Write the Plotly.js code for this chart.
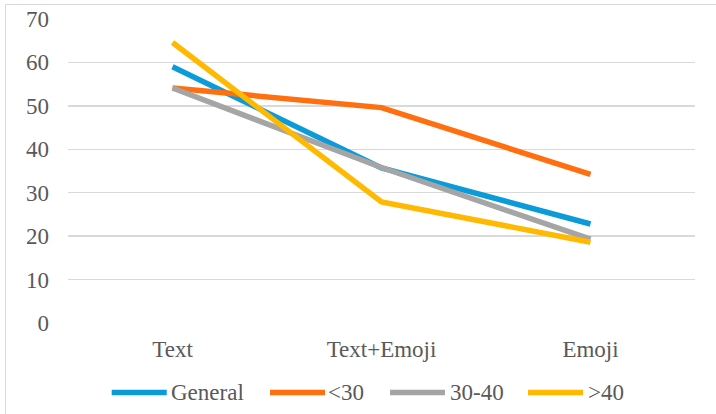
<!DOCTYPE html>
<html>
<head>
<meta charset="utf-8">
<script src="https://cdn.plot.ly/plotly-3.0.1.min.js"></script>
<style>
  html, body { margin: 0; padding: 0; background: #fff; }
  #chart { width: 716px; height: 414px; position: absolute; left: 0; top: 0; }
  #frame { position: absolute; left: 5px; top: 4px; width: 730px; height: 430px;
           border: 1.5px solid #D9D9D9; pointer-events: none; }
  #chart text { font-family: "Liberation Serif", "Times New Roman", serif !important; }
</style>
</head>
<body>
<div id="chart"></div>
<div id="frame"></div>
<script>
// ---- data ----
const categories = ["Text", "Text+Emoji", "Emoji"];
const seriesNames = ["General", "<30", "30-40", ">40"];
const general = [59.0, 35.7, 22.8];
const under30 = [54.1, 49.6, 34.2];
const age30to40 = [54.1, 35.8, 19.3];
const over40 = [64.6, 27.9, 18.6];
const yTickValues = [0, 10, 20, 30, 40, 50, 60, 70];

// ---- styles ----
const colors = ["#0A9BD8", "#FF6F10", "#A5A5A5", "#FFB900"];
const seriesValues = [general, under30, age30to40, over40];
const fontFamily = "Liberation Serif";
const textColor = "#595959";

const traces = seriesValues.map((vals, i) => ({
  type: "scatter",
  mode: "lines",
  x: categories,
  y: vals,
  name: seriesNames[i],
  line: { color: colors[i], width: 5.5 },
  hoverinfo: "x+y+name",
  showlegend: false
}));

// custom legend (long line samples, as in the original)
const legendY = -0.229;
const legendLines = [[111.7, 166.7], [270, 325], [390, 445], [528, 583]];
const legendTextX = [169, 326, 448, 586];
const plotLeft = 68, plotW = 627;
const px = v => (v - plotLeft) / plotW;

const shapes = legendLines.map((seg, i) => ({
  type: "line", xref: "paper", yref: "paper",
  x0: px(seg[0]), x1: px(seg[1]), y0: legendY, y1: legendY,
  line: { color: colors[i], width: 5.5 }
}));
const annotations = seriesNames.map((n, i) => ({
  xref: "paper", yref: "paper", x: px(legendTextX[i]), y: legendY,
  xanchor: "left", yanchor: "middle", showarrow: false, text: n.replace("<", "&lt;").replace(">", "&gt;"),
  font: { family: fontFamily, size: 23, color: textColor }
}));

const layout = {
  width: 716, height: 414,
  margin: { l: 68, r: 21, t: 19, b: 91 },
  paper_bgcolor: "#ffffff",
  plot_bgcolor: "#ffffff",
  showlegend: false,
  font: { family: fontFamily, size: 23, color: textColor },
  xaxis: {
    type: "category",
    range: [-0.5, 2.5],
    showgrid: false, zeroline: false, showline: false,
    ticks: "",
    ticklabelstandoff: 10,
    tickfont: { family: fontFamily, size: 23, color: textColor }
  },
  yaxis: {
    range: [0, 70],
    tickvals: yTickValues,
    showgrid: true, gridcolor: "#D9D9D9", gridwidth: 1.5,
    zeroline: false, showline: false,
    ticks: "",
    ticklabelstandoff: 18,
    tickfont: { family: fontFamily, size: 23, color: textColor }
  },
  shapes: shapes,
  annotations: annotations
};

Plotly.newPlot("chart", traces, layout, { displayModeBar: false, staticPlot: true });
</script>
</body>
</html>
